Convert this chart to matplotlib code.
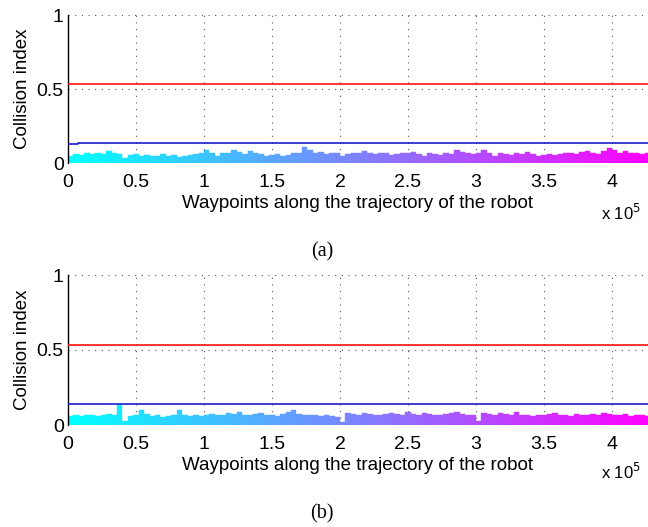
import matplotlib
matplotlib.use("Agg")
import matplotlib.pyplot as plt
import numpy as np

plt.rcParams['font.family'] = ['Liberation Sans', 'DejaVu Sans']

# ---- data ----
seg_len = 4000          # waypoints per segment
x_max = 426500          # waypoints shown
collision_a = [0.05,0.06,0.055,0.065,0.06,0.07,0.06,0.08,0.065,0.06,
               0.035,0.055,0.06,0.05,0.055,0.045,0.05,0.06,0.05,0.055,
               0.04,0.05,0.055,0.06,0.07,0.09,0.07,0.045,0.065,0.07,
               0.09,0.075,0.06,0.08,0.065,0.06,0.05,0.055,0.06,0.05,
               0.055,0.065,0.07,0.105,0.09,0.07,0.075,0.06,0.065,0.07,
               0.05,0.06,0.065,0.07,0.08,0.065,0.06,0.07,0.065,0.055,
               0.06,0.07,0.065,0.075,0.06,0.05,0.065,0.06,0.055,0.07,
               0.06,0.09,0.075,0.07,0.06,0.065,0.085,0.07,0.05,0.065,
               0.06,0.055,0.065,0.06,0.075,0.06,0.05,0.055,0.06,0.055,
               0.06,0.065,0.07,0.06,0.075,0.08,0.07,0.06,0.08,0.1,
               0.085,0.07,0.08,0.065,0.07,0.06,0.065]
collision_b = [0.06,0.065,0.06,0.07,0.065,0.06,0.065,0.075,0.07,0.135,
               0.03,0.06,0.065,0.1,0.075,0.06,0.065,0.055,0.06,0.065,
               0.1,0.07,0.06,0.065,0.06,0.07,0.075,0.065,0.07,0.08,
               0.075,0.09,0.07,0.065,0.075,0.08,0.065,0.07,0.06,0.075,
               0.085,0.1,0.075,0.07,0.065,0.07,0.06,0.065,0.06,0.055,
               0.02,0.08,0.075,0.07,0.08,0.075,0.07,0.065,0.075,0.08,
               0.075,0.07,0.09,0.075,0.07,0.08,0.075,0.07,0.065,0.075,
               0.08,0.09,0.075,0.07,0.065,0.03,0.08,0.075,0.07,0.08,
               0.075,0.07,0.09,0.07,0.065,0.06,0.07,0.065,0.075,0.08,
               0.065,0.07,0.06,0.075,0.07,0.065,0.075,0.07,0.08,0.075,
               0.07,0.065,0.075,0.06,0.07,0.065,0.06]
red_level = [0.535, 0.535]
blue_a_x = [0, 7000, 7000, x_max]
blue_a_y = [0.13, 0.13, 0.136, 0.136]
blue_b = [0.138, 0.138]
x_ticks = [0, 0.5e5, 1e5, 1.5e5, 2e5, 2.5e5, 3e5, 3.5e5, 4e5]
x_tick_labels = ['0', '0.5', '1', '1.5', '2', '2.5', '3', '3.5', '4']
y_ticks = [0, 0.5, 1]
y_tick_labels = ['0', '0.5', '1']
captions = ['(a)', '(b)']

W, H = 648, 527
fig = plt.figure(figsize=(W/100, H/100), dpi=100)

def panel(rect, vals, blue_x, blue_y, caption, cap_y, exp_y):
    ax = fig.add_axes(rect)
    starts = np.arange(len(vals)) * seg_len
    cmap = plt.get_cmap('cool')
    colors = [cmap(min(s / x_max, 1.0)) for s in starts]
    ax.bar(starts, vals, width=seg_len, align='edge', color=colors,
           edgecolor=colors, linewidth=0.3, zorder=2)
    ax.plot([0, x_max], red_level, color='#ff1010', lw=1.2, zorder=3)
    ax.plot(blue_x, blue_y, color='#1a1acc', lw=1.2, zorder=3)
    ax.set_xlim(0, x_max)
    ax.set_ylim(0, 1)
    ax.set_xticks(x_ticks)
    ax.set_xticklabels(x_tick_labels)
    ax.set_yticks(y_ticks)
    ax.set_yticklabels(y_tick_labels)
    ax.grid(True, linestyle=(0, (1, 5)), color='#555555', lw=0.8, zorder=0)
    for s in ['top', 'right', 'bottom']:
        ax.spines[s].set_visible(False)
    ax.spines['left'].set_color('black')
    ax.spines['left'].set_linewidth(1.0)
    ax.tick_params(axis='both', direction='in', length=0, labelsize=14)
    ax.tick_params(axis='x', pad=8)
    ax.tick_params(axis='y', pad=3)
    ax.set_ylabel('Collision index', fontsize=13.5, labelpad=4)
    ax.set_xlabel('Waypoints along the trajectory of the robot', fontsize=13.5, labelpad=3)
    fig.text(641/W, 1 - exp_y/H, r'x 10$^5$', fontsize=12, ha='right', va='center')
    fig.text(322/W, 1 - cap_y/H, caption, fontsize=14.5, ha='center', va='center',
             family='Liberation Serif')
    return ax

panel([68/W, 1 - 163/H, 1 - 68/W, (163-15)/H], collision_a, blue_a_x, blue_a_y,
      captions[0], 252, 213)
panel([68/W, 1 - 425/H, 1 - 68/W, (425-275)/H], collision_b, [0, x_max], blue_b,
      captions[1], 514, 472)

fig.savefig('out.png', dpi=100)
